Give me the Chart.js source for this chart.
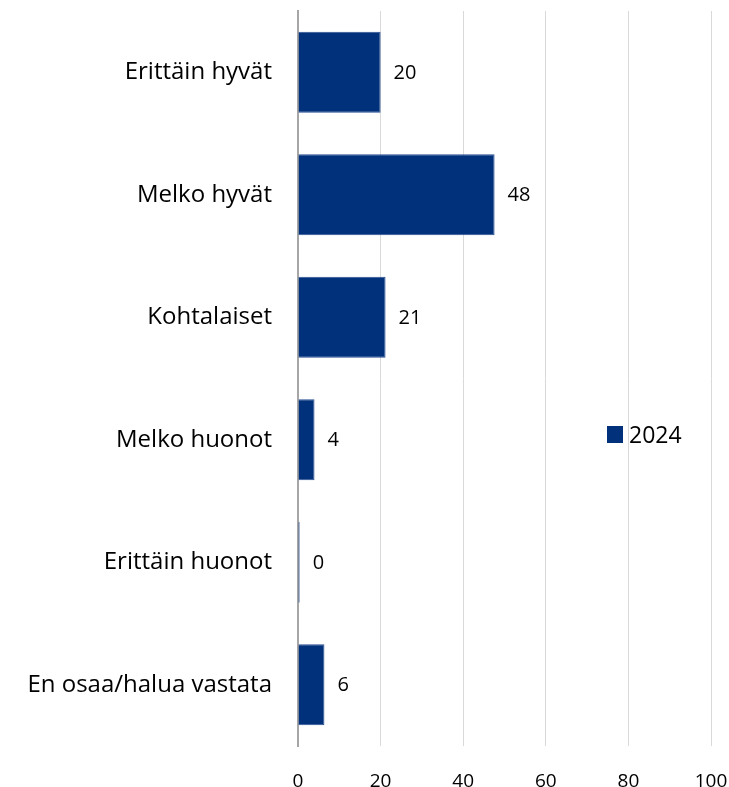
<!DOCTYPE html>
<html>
<head>
<meta charset="utf-8">
<script src="https://cdn.jsdelivr.net/npm/chart.js@4.4.1/dist/chart.umd.min.js"></script>
<style>
  html, body { margin: 0; padding: 0; background: #fff; overflow: hidden; }
  canvas { display: block; }
</style>
</head>
<body>
<canvas id="barChart" width="729" height="787"></canvas>
<script>
const categories = ['Erittäin hyvät', 'Melko hyvät', 'Kohtalaiset', 'Melko huonot', 'Erittäin huonot', 'En osaa/halua vastata'];
const values2024 = [20.0, 47.6, 21.2, 4.0, 0.4, 6.4];
const xTicks = [0, 20, 40, 60, 80, 100];
const seriesName = '2024';

const barColor = '#00317a';
const fontFamily = '"Open Sans", Lato, sans-serif';

// value labels to the right of each bar
const valueLabels = {
  id: 'valueLabels',
  afterDatasetsDraw(chart) {
    const { ctx } = chart;
    const meta = chart.getDatasetMeta(0);
    ctx.save();
    ctx.font = '20px ' + fontFamily;
    ctx.fillStyle = '#000';
    ctx.textBaseline = 'middle';
    ctx.textAlign = 'left';
    meta.data.forEach((bar, i) => {
      ctx.fillText(Math.round(values2024[i]).toString(), bar.x + 13, bar.y + 1);
    });
    ctx.restore();
  }
};

// legend sits over the plot area on the right, like the original
const floatLegend = {
  id: 'floatLegend',
  afterDraw(chart) {
    const { ctx } = chart;
    ctx.save();
    ctx.fillStyle = barColor;
    ctx.fillRect(607, 426, 16, 17);
    ctx.font = '23px ' + fontFamily;
    ctx.fillStyle = '#000';
    ctx.textBaseline = 'middle';
    ctx.textAlign = 'left';
    ctx.fillText(seriesName, 629, 436);
    ctx.restore();
  }
};

new Chart(document.getElementById('barChart'), {
  type: 'bar',
  data: {
    labels: categories,
    datasets: [{
      label: seriesName,
      data: values2024,
      backgroundColor: barColor,
      borderColor: '#2a4f94',
      borderWidth: 1,
      categoryPercentage: 0.66,
      barPercentage: 1.0
    }]
  },
  options: {
    indexAxis: 'y',
    responsive: false,
    animation: false,
    layout: { padding: { top: 11, right: 18, bottom: 0, left: 0 } },
    plugins: {
      legend: { display: false },
      tooltip: { enabled: false }
    },
    scales: {
      x: {
        min: 0,
        max: 100,
        afterBuildTicks: axis => { axis.ticks = xTicks.map(v => ({ value: v })); },
        afterFit: axis => { axis.height = 41; axis.paddingLeft = 0; axis.paddingRight = 0; },
        grid: { color: '#d9d9d9', lineWidth: 1, drawTicks: false },
        border: { display: false },
        ticks: {
          color: '#000',
          padding: 24,
          font: { family: fontFamily, size: 19 }
        }
      },
      y: {
        afterFit: axis => { axis.width = 298; axis.paddingTop = 0; axis.paddingBottom = 0; },
        grid: { display: false, drawTicks: false },
        border: { display: true, color: '#a6a6a6', width: 2 },
        ticks: {
          color: '#000',
          padding: 26,
          font: { family: fontFamily, size: 24 }
        }
      }
    }
  },
  plugins: [valueLabels, floatLegend]
});
</script>
</body>
</html>
